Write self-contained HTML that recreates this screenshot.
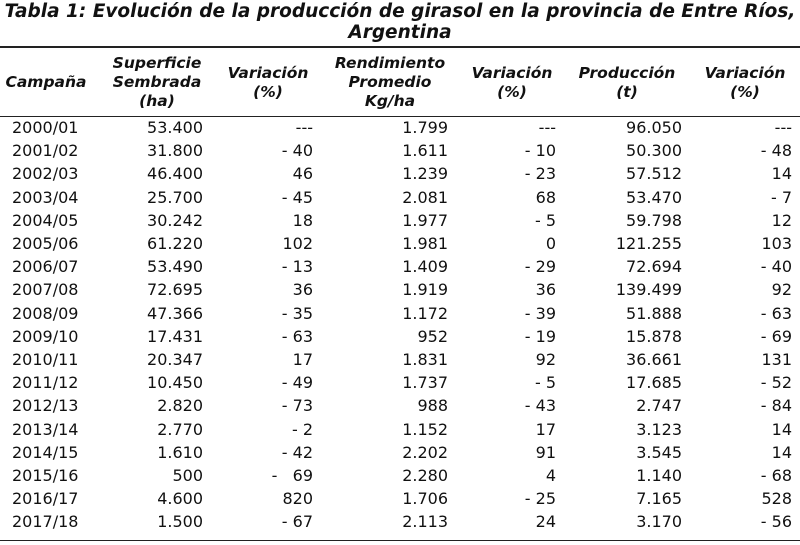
<!DOCTYPE html>
<html><head><meta charset="utf-8"><style>
body{margin:0;width:800px;height:545px;background:#fff;position:relative;overflow:hidden;font-family:"DejaVu Sans","Liberation Sans",sans-serif;color:#111}
.t{position:absolute;left:0;width:800px;text-align:center;font-weight:bold;font-style:italic;font-size:18.5px;line-height:21px}
.h{position:absolute;font-weight:bold;font-style:italic;font-size:15.5px;line-height:19px;text-align:center;transform:translateX(-50%);white-space:nowrap}
.r{position:absolute;left:0;width:800px;height:23px;font-size:16px;line-height:23px}
.r span{position:absolute;white-space:nowrap}
.rule{position:absolute;left:0;width:800px;background:#222}
</style></head><body>
<div class="t" style="top:1px">Tabla 1: Evolución de la producción de girasol en la provincia de Entre Ríos,</div>
<div class="t" style="top:22px">Argentina</div>
<div class="rule" style="top:46px;height:2px"></div>
<div class="h" style="left:46px;top:73px">Campaña</div>
<div class="h" style="left:157px;top:54px">Superficie<br>Sembrada<br>(ha)</div>
<div class="h" style="left:268px;top:64px">Variación<br>(%)</div>
<div class="h" style="left:390px;top:54px">Rendimiento<br>Promedio<br>Kg/ha</div>
<div class="h" style="left:512px;top:64px">Variación<br>(%)</div>
<div class="h" style="left:627px;top:64px">Producción<br>(t)</div>
<div class="h" style="left:745px;top:64px">Variación<br>(%)</div>
<div class="rule" style="top:116px;height:1px"></div>
<div id="rows"></div>
<div class="rule" style="top:540px;height:1px"></div>
<script>
var d=[["2000/01","53.400","---","1.799","---","96.050","---"],
["2001/02","31.800","- 40","1.611","- 10","50.300","- 48"],
["2002/03","46.400","46","1.239","- 23","57.512","14"],
["2003/04","25.700","- 45","2.081","68","53.470","- 7"],
["2004/05","30.242","18","1.977","- 5","59.798","12"],
["2005/06","61.220","102","1.981","0","121.255","103"],
["2006/07","53.490","- 13","1.409","- 29","72.694","- 40"],
["2007/08","72.695","36","1.919","36","139.499","92"],
["2008/09","47.366","- 35","1.172","- 39","51.888","- 63"],
["2009/10","17.431","- 63","952","- 19","15.878","- 69"],
["2010/11","20.347","17","1.831","92","36.661","131"],
["2011/12","10.450","- 49","1.737","- 5","17.685","- 52"],
["2012/13","2.820","- 73","988","- 43","2.747","- 84"],
["2013/14","2.770","- 2","1.152","17","3.123","14"],
["2014/15","1.610","- 42","2.202","91","3.545","14"],
["2015/16","500","-&nbsp;&nbsp;&nbsp;69","2.280","4","1.140","- 68"],
["2016/17","4.600","820","1.706","- 25","7.165","528"],
["2017/18","1.500","- 67","2.113","24","3.170","- 56"]];
var R=[203,313,448,556,682,792],h="";
d.forEach(function(r,i){var y=116+i*23.2;h+='<div class="r" style="top:'+y+'px"><span style="left:12px">'+r[0]+'</span>';
for(var j=1;j<7;j++)h+='<span style="right:'+(800-R[j-1])+'px">'+r[j]+'</span>';h+='</div>';});
document.getElementById('rows').innerHTML=h;
</script>
</body></html>
